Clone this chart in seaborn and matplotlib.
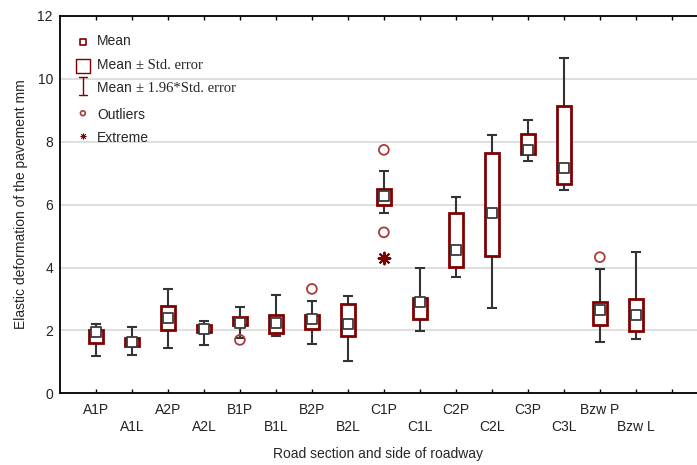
import numpy as np
import pandas as pd
import seaborn as sns
import matplotlib.pyplot as plt

sns.set_style("white")
plt.rcParams['font.family'] = ['Liberation Sans', 'DejaVu Sans']

### data
labels = ["A1P", "A1L", "A2P", "A2L", "B1P", "B1L", "B2P", "B2L",
          "C1P", "C1L", "C2P", "C2L", "C3P", "C3L", "Bzw P", "Bzw L"]
means = [1.94, 1.64, 2.40, 2.04, 2.25, 2.23, 2.35, 2.20,
         6.28, 2.91, 4.55, 5.72, 7.72, 7.17, 2.65, 2.48]
box_lo = [1.59, 1.51, 2.01, 1.94, 2.18, 1.93, 2.05, 1.82,
          6.00, 2.37, 4.02, 4.37, 7.61, 6.66, 2.18, 1.97]
box_hi = [2.02, 1.77, 2.78, 2.17, 2.43, 2.49, 2.49, 2.85,
          6.49, 3.02, 5.74, 7.65, 8.24, 9.13, 2.92, 3.01]
whisk_lo = [1.20, 1.23, 1.43, 1.53, 1.75, 1.82, 1.58, 1.03,
            5.72, 1.99, 3.71, 2.71, 7.37, 6.45, 1.64, 1.72]
whisk_hi = [2.21, 2.12, 3.33, 2.31, 2.75, 3.14, 2.93, 3.11,
            7.06, 3.97, 6.23, 8.22, 8.70, 10.67, 3.94, 4.50]
outlier_cat = ["B1P", "B2P", "C1P", "C1P", "Bzw P"]
outlier_val = [1.70, 3.32, 7.74, 5.12, 4.33]
extreme_cat = ["C1P"]
extreme_val = [4.31]

DARK_RED = "#800000"
OUT_RED = "#a83a3a"
WHISK = "#333333"
MEAN_EDGE = "#3c3c3c"

df = pd.DataFrame({"label": labels, "mean": means, "box_lo": box_lo,
                   "box_hi": box_hi, "whisk_lo": whisk_lo, "whisk_hi": whisk_hi})
df["pos"] = np.arange(len(df))
pos_of = dict(zip(df["label"], df["pos"]))
df_out = pd.DataFrame({"pos": [pos_of[c] for c in outlier_cat], "val": outlier_val})
df_ext = pd.DataFrame({"pos": [pos_of[c] for c in extreme_cat], "val": extreme_val})

fig = plt.figure(figsize=(6.97, 4.65), dpi=100)
ax = fig.add_axes([0.086, 0.154, 0.914, 0.812])

# whiskers (behind the boxes)
ax.errorbar(df["pos"], df["mean"],
            yerr=[df["mean"] - df["whisk_lo"], df["whisk_hi"] - df["mean"]],
            fmt="none", ecolor=WHISK, elinewidth=1.5, capsize=3.5, capthick=1.5, zorder=2)
# boxes
ax.bar(df["pos"], df["box_hi"] - df["box_lo"], bottom=df["box_lo"], width=0.38,
       color="white", edgecolor=DARK_RED, linewidth=2.0, zorder=3)
# means
sns.scatterplot(data=df, x="pos", y="mean", marker="s", s=42, color="white",
                edgecolor=MEAN_EDGE, linewidth=1.3, ax=ax, zorder=4)
# outliers and extremes
sns.scatterplot(data=df_out, x="pos", y="val", marker="o", s=50, color="none",
                edgecolor=OUT_RED, linewidth=1.3, ax=ax, zorder=4)
sns.scatterplot(data=df_ext, x="pos", y="val", marker=(8, 2, 0), s=70,
                color=DARK_RED, edgecolor=DARK_RED, linewidth=1.5, ax=ax, zorder=4)

ax.set_xlim(-1, 16.7)
ax.set_ylim(0, 12)
ax.set_yticks(np.arange(0, 13, 2))
ax.yaxis.grid(True, color="#d9d9d9", linewidth=1.2)
ax.set_axisbelow(True)

ax.set_xticks(np.arange(0, 17))
ax.set_xticklabels([("" if i % 2 == 0 else "\n") + l for i, l in enumerate(labels)] + [""],
                   fontsize=10, linespacing=1.3)
ax.tick_params(axis="x", direction="in", length=3, width=1, top=True, bottom=True,
               colors="black", labelcolor="#222222", pad=7)
ax.tick_params(axis="y", length=0, labelsize=10, labelcolor="#222222", pad=5)

for side in ["left", "bottom", "top"]:
    ax.spines[side].set_color("black")
    ax.spines[side].set_linewidth(1.3)
ax.spines["right"].set_visible(False)

ax.set_xlabel("Road section and side of roadway", fontsize=10, labelpad=9)
ax.set_ylabel("Elastic deformation of the pavement mm", fontsize=10, labelpad=7)

# legend drawn by hand
leg_x, txt_x = 0.036, 0.058
rows = [0.916, 0.852, 0.789, 0.720, 0.659]
ax.scatter([leg_x], [rows[0] + 0.014], marker="s", s=16, facecolor="none", edgecolor=DARK_RED,
           linewidth=1.2, transform=ax.transAxes, clip_on=False)
ax.scatter([leg_x], [rows[1] + 0.016], marker="s", s=100, facecolor="none", edgecolor=DARK_RED,
           linewidth=1.0, transform=ax.transAxes, clip_on=False)
ax.plot([leg_x, leg_x], [rows[2] + 0.0, rows[2] + 0.05], color=DARK_RED, linewidth=1.0,
        transform=ax.transAxes, clip_on=False)
ax.plot([leg_x - 0.006, leg_x + 0.006], [rows[2] + 0.05] * 2, color=DARK_RED, linewidth=1.0,
        transform=ax.transAxes, clip_on=False)
ax.plot([leg_x - 0.006, leg_x + 0.006], [rows[2]] * 2, color=DARK_RED, linewidth=1.0,
        transform=ax.transAxes, clip_on=False)
ax.scatter([leg_x], [rows[3] + 0.022], marker="o", s=12, facecolor="none", edgecolor=OUT_RED,
           linewidth=1.2, transform=ax.transAxes, clip_on=False)
ax.scatter([leg_x], [rows[4] + 0.022], marker=(8, 2, 0), s=14, color=DARK_RED,
           linewidth=0.6, transform=ax.transAxes, clip_on=False)

serif = ['Liberation Serif', 'DejaVu Serif']
ax.text(txt_x, rows[0], "Mean", transform=ax.transAxes, fontsize=10, va="bottom")
t1 = ax.text(txt_x, rows[1], "Mean ", transform=ax.transAxes, fontsize=10, va="bottom")
ax.annotate("\u00b1 Std. error", xy=(1, 0), xycoords=t1, fontsize=10.5, va="bottom",
            family=serif)
t2 = ax.text(txt_x, rows[2], "Mean ", transform=ax.transAxes, fontsize=10, va="bottom")
ax.annotate("\u00b1 1.96*Std. error", xy=(1, 0), xycoords=t2, fontsize=10.5, va="bottom",
            family=serif)
ax.text(txt_x, rows[3], "Outliers", transform=ax.transAxes, fontsize=10, va="bottom")
ax.text(txt_x, rows[4], "Extreme", transform=ax.transAxes, fontsize=10, va="bottom")

fig.savefig("out.png", dpi=100)
